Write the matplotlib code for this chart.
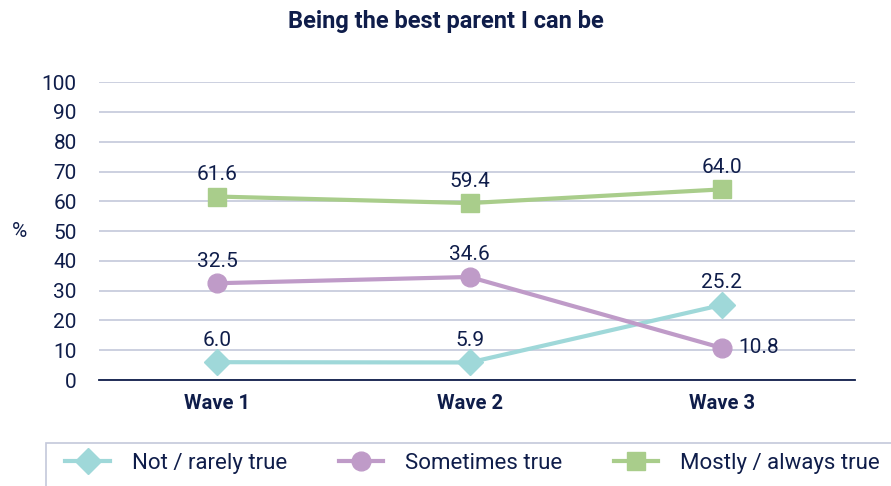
import matplotlib
matplotlib.use("Agg")
import matplotlib.pyplot as plt
from matplotlib.patches import Rectangle

waves = ["Wave 1", "Wave 2", "Wave 3"]
not_rarely = [6.0, 5.9, 25.2]
sometimes = [32.5, 34.6, 10.8]
mostly = [61.6, 59.4, 64.0]
series_names = ["Not / rarely true", "Sometimes true", "Mostly / always true"]

navy = "#0f1d4a"
colors = ["#9fd8d9", "#bf9bc8", "#a9cd8b"]
markers = ["D", "o", "s"]
msizes = [13, 13.5, 13.5]

plt.rcParams['font.family'] = ['Roboto', 'DejaVu Sans']

fig = plt.figure(figsize=(8.91, 4.86), dpi=100)
ax = fig.add_axes([0.111, 0.218, 0.849, 0.613])

x = list(range(len(waves)))
for vals, name, c, m, ms in zip([not_rarely, sometimes, mostly], series_names, colors, markers, msizes):
    ax.plot(x, vals, color=c, lw=3, marker=m, ms=ms, label=name, zorder=3)

# data labels
for vals in [not_rarely, mostly]:
    for xi, v in zip(x, vals):
        ax.annotate(f"{v:.1f}", (xi, v), xytext=(0, 9), textcoords="offset points",
                    ha="center", va="bottom", fontsize=15, color=navy)
for xi, v in zip(x, sometimes):
    if xi == 2:
        ax.annotate(f"{v:.1f}", (xi, v), xytext=(12, 0), textcoords="offset points",
                    ha="left", va="center", fontsize=15, color=navy)
    else:
        ax.annotate(f"{v:.1f}", (xi, v), xytext=(0, 9), textcoords="offset points",
                    ha="center", va="bottom", fontsize=15, color=navy)

ax.set_xlim(-0.47, 2.53)
ax.set_ylim(0, 100)
ax.set_yticks(range(0, 101, 10))
ax.set_xticks(x)
ax.set_xticklabels(waves, fontweight="bold", fontsize=14.5, color=navy)
ax.tick_params(axis="y", labelsize=15, labelcolor=navy, length=0, pad=16)
ax.tick_params(axis="x", length=0, pad=10)
ax.grid(axis="y", color="#c4c8da", lw=1.2)
ax.set_axisbelow(True)
for s in ["top", "right", "left"]:
    ax.spines[s].set_visible(False)
ax.spines["bottom"].set_color(navy)
ax.spines["bottom"].set_linewidth(1.3)
ax.set_ylabel("%", rotation=0, fontsize=15, color=navy, labelpad=16, va="center")

fig.text(0.5, 0.955, "Being the best parent I can be", ha="center", va="center",
         fontsize=17, fontweight="bold", color=navy)

# legend box runs off the right and bottom edges
fig.patches.append(Rectangle((46 / 891, -0.1), 1.0, 0.188, transform=fig.transFigure,
                             fill=False, edgecolor="#c4c8da", lw=1.2))
leg = fig.legend(loc="center left", bbox_to_anchor=(0.066, 0.046),
                 ncol=3, frameon=False, fontsize=16, handlelength=2.0, handletextpad=1.0,
                 columnspacing=2.3, borderaxespad=0, borderpad=0.3, labelcolor=navy)

fig.savefig("out.png", dpi=100)
